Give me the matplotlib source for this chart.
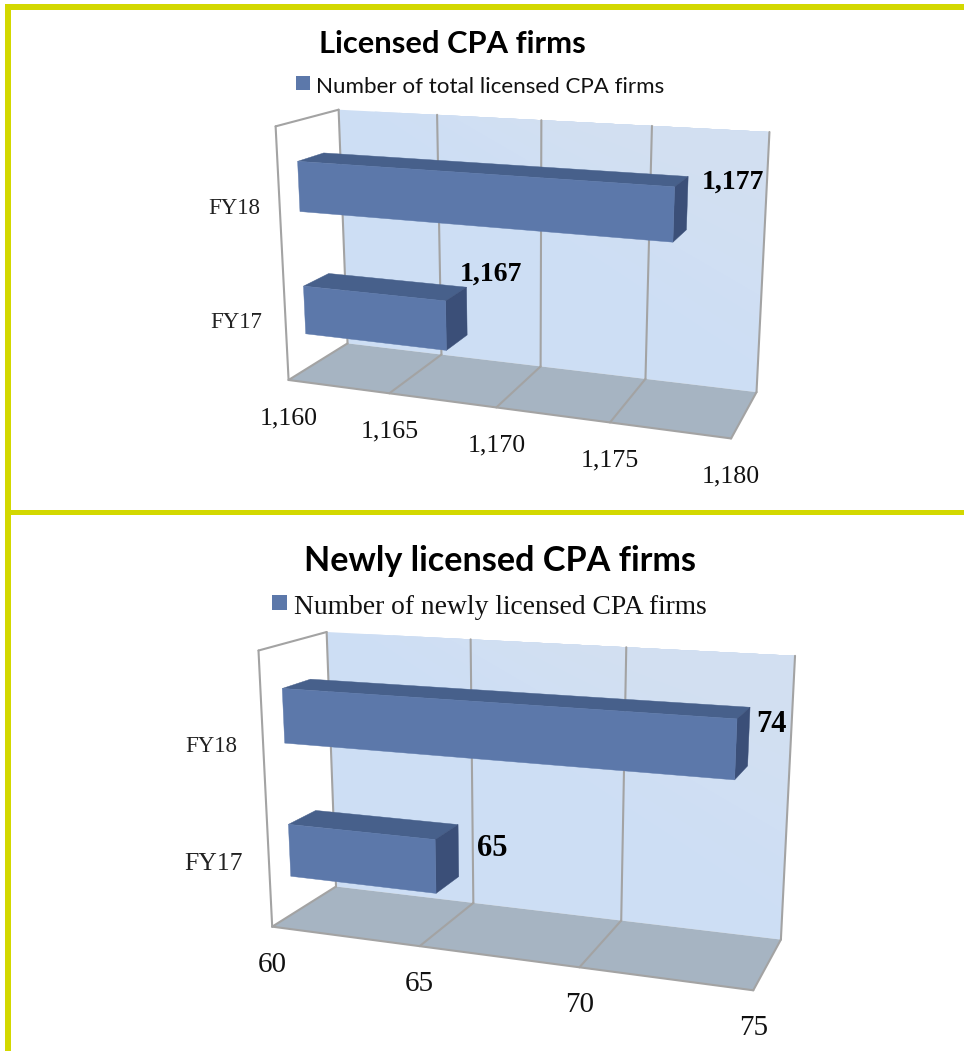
import matplotlib
matplotlib.use('Agg')
import matplotlib.pyplot as plt
from matplotlib.colors import to_rgb
from matplotlib.patches import Polygon, Rectangle
import numpy as np

# Valores
categorias = ['FY17', 'FY18']
total_firmas = [1167, 1177]
novas_firmas = [65, 74]
ticks_total = [1160, 1165, 1170, 1175, 1180]
ticks_novas = [60, 65, 70, 75]
rotulos_total = ['1,160', '1,165', '1,170', '1,175', '1,180']
rotulos_novas = ['60', '65', '70', '75']
rotulos_valor_total = ['1,167', '1,177']
rotulos_valor_novas = ['65', '74']

COR_FRENTE = '#5c78aa'
COR_TOPO = '#47608b'
COR_LADO = '#3b4f78'
COR_CHAO = '#a6b4c2'
COR_GRADE = '#a3a3a3'
COR_PAREDE = '#cddef4'
COR_PAREDE_2 = '#d2dff1'
AMARELO = '#d3d800'
SERIF = 'Liberation Serif'
SANS = 'Lato'


def ajustar_camera(chao_frente, chao_fundo, topo_fundo, canto_topo):
    # Projecao (valor, profundidade, altura) -> pixel, ajustada aos cantos do quadro
    pares = []
    n = len(chao_frente)
    for i in range(n):
        u = i / (n - 1)
        pares.append(((u, 0, 0), chao_frente[i]))
        pares.append(((u, 1, 0), chao_fundo[i]))
        pares.append(((u, 1, 1), topo_fundo[i]))
    pares.append(((0, 0, 1), canto_topo))
    linhas = []
    for (u, d, h), (x, y) in pares:
        p = [u, d, h, 1]
        linhas.append(p + [0, 0, 0, 0] + [-x * c for c in p])
        linhas.append([0, 0, 0, 0] + p + [-y * c for c in p])
    _, _, vt = np.linalg.svd(np.array(linhas, dtype=float))
    return vt[-1].reshape(3, 4)


def desenhar_painel(ax, cam, ticks, rotulos, valores, rot_valores, pos_valores,
                    pos_categorias, tam_tick, tam_cat, tam_valor):
    def proj(u, d, h):
        v = cam @ np.array([u, d, h, 1.0])
        return v[0] / v[2], v[1] / v[2]

    def face(pts, zorder=1, **kw):
        ax.add_patch(Polygon([proj(*p) for p in pts], closed=True, zorder=zorder, **kw))

    def linha(a, b):
        xa, ya = proj(*a)
        xb, yb = proj(*b)
        ax.plot([xa, xb], [ya, yb], color=COR_GRADE, lw=1.5, solid_capstyle='round', zorder=2)

    # Parede do fundo com gradiente suave na diagonal, e chao
    face([(0, 1, 0), (1, 1, 0), (1, 1, 1), (0, 1, 1)], fc=COR_PAREDE, ec='none')
    c0, c1 = np.array(to_rgb(COR_PAREDE)), np.array(to_rgb(COR_PAREDE_2))
    for k in range(1, 9):
        s = k / 8
        f = 0.03 + 0.5 * s
        face([(f, 1, 1), (1, 1, 1), (1, 1, 0.02 + 0.72 * s)],
             fc=tuple(c0 + (c1 - c0) * s), ec='none')
    face([(0, 0, 0), (1, 0, 0), (1, 1, 0), (0, 1, 0)], fc=COR_CHAO, ec='none')

    # Grade
    vmin, vmax = ticks[0], ticks[-1]
    for t in ticks:
        u = (t - vmin) / (vmax - vmin)
        if t != vmin and t != vmax:
            linha((u, 0, 0), (u, 1, 0))
        linha((u, 1, 0), (u, 1, 1))
    linha((0, 0, 0), (1, 0, 0))
    linha((1, 0, 0), (1, 1, 0))
    linha((0, 0, 0), (0, 1, 0))
    linha((0, 0, 0), (0, 0, 1))
    linha((0, 0, 1), (0, 1, 1))

    # Barras
    d0, d1 = 0.30, 0.72
    for i, v in enumerate(valores):
        u = (v - vmin) / (vmax - vmin)
        centro = (i + 0.5) / len(valores) - 0.005
        h0, h1 = centro - 0.099, centro + 0.099
        face([(0, d0, h1), (u, d0, h1), (u, d1, h1), (0, d1, h1)], zorder=3, fc=COR_TOPO, ec=COR_TOPO, lw=0.3)
        face([(u, d0, h0), (u, d1, h0), (u, d1, h1), (u, d0, h1)], zorder=3, fc=COR_LADO, ec=COR_LADO, lw=0.3)
        face([(0, d0, h0), (u, d0, h0), (u, d0, h1), (0, d0, h1)], zorder=3, fc=COR_FRENTE, ec=COR_FRENTE, lw=0.3)
        ax.text(pos_valores[i][0], pos_valores[i][1], rot_valores[i], family=SERIF, zorder=4,
                weight='bold', fontsize=tam_valor, ha='center', va='center', color='black')

    # Rotulos dos eixos
    for t, r in zip(ticks, rotulos):
        x, y = proj((t - vmin) / (vmax - vmin), 0, 0)
        ax.text(x, y + 38, r, family=SERIF, fontsize=tam_tick, ha='center', va='center', color='#111111')
    for c, (x, y), tam in zip(categorias, pos_categorias, tam_cat):
        ax.text(x, y, c, family=SERIF, fontsize=tam, ha='center', va='center', color='#222222')


fig = plt.figure(figsize=(9.64, 10.51), dpi=100)
ax = fig.add_axes([0, 0, 1, 1])
ax.set_xlim(0, 964)
ax.set_ylim(1051, 0)
ax.axis('off')

# Moldura amarela
ax.add_patch(Rectangle((5, 4), 959, 6, fc=AMARELO, ec='none'))
ax.add_patch(Rectangle((5, 4), 6, 1047, fc=AMARELO, ec='none'))
ax.add_patch(Rectangle((5, 510), 959, 5, fc=AMARELO, ec='none'))

# Grafico de cima
ax.text(452.5, 44, 'Licensed CPA firms', family=SANS, weight='bold', fontsize=22.2,
        ha='center', va='center', color='black')
ax.add_patch(Rectangle((296, 76), 14, 14, fc=COR_FRENTE, ec='none'))
ax.text(316, 87, 'Number of total licensed CPA firms', family=SANS, fontsize=16.1,
        ha='left', va='center', color='#111111')
cam1 = ajustar_camera(
    [(288, 380), (390, 393), (497, 407), (610, 422), (731, 439)],
    [(348, 343), (441, 355), (540, 367), (645, 379), (757, 392)],
    [(339, 110), (437, 114), (542, 120), (652, 126), (769, 132)],
    (275, 127))
desenhar_painel(ax, cam1, ticks_total, rotulos_total, total_firmas, rotulos_valor_total,
                [(491, 274), (733, 182)], [(236, 322), (234, 209)],
                18.6, [16.5, 16.5], 20)

# Grafico de baixo
ax.text(500, 561, 'Newly licensed CPA firms', family=SANS, weight='bold', fontsize=24.6,
        ha='center', va='center', color='black')
ax.add_patch(Rectangle((272, 595), 15, 15, fc=COR_FRENTE, ec='none'))
ax.text(294, 607, 'Number of newly licensed CPA firms', family=SERIF, fontsize=19.8,
        ha='left', va='center', color='#111111')
cam2 = ajustar_camera(
    [(272, 926), (420, 946), (580, 967), (753, 991)],
    [(336, 887), (473, 903), (621, 921), (781, 939)],
    [(327, 632), (471, 639), (626, 647), (795, 656)],
    (258, 651))
desenhar_painel(ax, cam2, ticks_novas, rotulos_novas, novas_firmas, rotulos_valor_novas,
                [(492, 848), (772, 724)], [(214, 864), (211, 747)],
                21, [18.5, 16.5], 22)

fig.savefig('out.png', dpi=100)
